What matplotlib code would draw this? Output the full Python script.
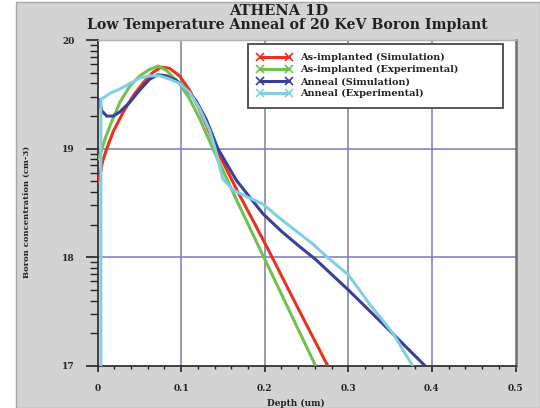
import numpy as np
import matplotlib
matplotlib.use("Agg")
import matplotlib.pyplot as plt
from matplotlib.lines import Line2D
from matplotlib.patches import Rectangle
from matplotlib.ticker import FixedLocator, MultipleLocator

# Boron profiles: depth (um) and log10 concentration (cm-3)
asimp_sim_depth = [0.000, 0.003, 0.006, 0.011, 0.019, 0.031, 0.043, 0.055, 0.066, 0.076,
                   0.086, 0.098, 0.110, 0.122, 0.134, 0.142, 0.166, 0.188, 0.209, 0.230,
                   0.252, 0.2755]
asimp_sim_conc = [18.68, 18.76, 18.88, 19.00, 19.16, 19.34, 19.49, 19.61, 19.70, 19.75,
                  19.74, 19.67, 19.54, 19.36, 19.15, 19.00, 18.63, 18.31, 18.00, 17.68,
                  17.35, 17.00]

asimp_exp_depth = [0.000, 0.003, 0.009, 0.017, 0.027, 0.039, 0.0506, 0.0625, 0.0725, 0.0825,
                   0.098, 0.110, 0.122, 0.134, 0.138, 0.168, 0.199, 0.230, 0.261]
asimp_exp_conc = [18.90, 18.94, 19.09, 19.25, 19.43, 19.58, 19.67, 19.73, 19.76, 19.72,
                  19.60, 19.46, 19.28, 19.07, 19.00, 18.50, 18.00, 17.50, 17.00]

anneal_sim_depth = [0.000, 0.002, 0.005, 0.011, 0.019, 0.027, 0.039, 0.0506, 0.0625, 0.0725,
                    0.0825, 0.094, 0.106, 0.118, 0.130, 0.144, 0.166, 0.198, 0.220, 0.240,
                    0.261, 0.300, 0.345, 0.392]
anneal_sim_conc = [19.46, 19.45, 19.35, 19.30, 19.30, 19.34, 19.43, 19.54, 19.64, 19.68,
                   19.67, 19.63, 19.55, 19.44, 19.27, 19.00, 18.71, 18.40, 18.24, 18.11,
                   17.98, 17.70, 17.36, 17.00]

anneal_exp_depth = [0.004, 0.004, 0.015, 0.027, 0.039, 0.0506, 0.0625, 0.0745, 0.0864, 0.098,
                    0.110, 0.122, 0.134, 0.140, 0.150, 0.162, 0.178, 0.198, 0.218, 0.238,
                    0.258, 0.275, 0.300, 0.3255, 0.3535, 0.377]
anneal_exp_conc = [17.00, 19.45, 19.51, 19.55, 19.60, 19.65, 19.67, 19.67, 19.64, 19.60,
                   19.52, 19.37, 19.17, 19.02, 18.72, 18.62, 18.56, 18.49, 18.36, 18.24,
                   18.12, 18.00, 17.84, 17.57, 17.30, 17.00]

series_labels = ["As-implanted (Simulation)", "As-implanted (Experimental)",
                 "Anneal (Simulation)", "Anneal (Experimental)"]
series_colors = ["#e8321e", "#72c04e", "#3b3f9c", "#80d0e2"]

x_ticks = [0, 0.1, 0.2, 0.3, 0.4, 0.5]
x_tick_labels = ["0", "0.1", "0.2", "0.3", "0.4", "0.5"]
y_ticks = [17, 18, 19, 20]
y_tick_labels = ["17", "18", "19", "20"]

font = "DejaVu Serif"
ink = "#222222"
grid_color = "#7a7ab8"

fig = plt.figure(figsize=(5.4, 4.08), dpi=100, facecolor="white")
# grey panel behind the plot
fig.patches.append(Rectangle((16 / 540, 0), 1 - 16 / 540, 1 - 2 / 408,
                             transform=fig.transFigure, facecolor="#d3d3d3",
                             edgecolor="#a8a8a8", linewidth=1.0, zorder=-10))

ax = fig.add_axes([97.5 / 540, (408 - 366) / 408, 418 / 540, (366 - 40) / 408])
ax.set_zorder(1)
ax.set_facecolor("white")
ax.set_xlim(0, 0.5)
ax.set_ylim(17, 20)

for xv in x_ticks[1:-1]:
    ax.axvline(xv, color=grid_color, lw=1.1, zorder=1)
for yv in y_ticks[1:-1]:
    ax.axhline(yv, color=grid_color, lw=1.1, zorder=1)

data = [(asimp_sim_depth, asimp_sim_conc), (asimp_exp_depth, asimp_exp_conc),
        (anneal_sim_depth, anneal_sim_conc), (anneal_exp_depth, anneal_exp_conc)]
for (xs, ys), c in zip(data, series_colors):
    ax.plot(xs, ys, color=c, lw=2.2, solid_joinstyle="round", solid_capstyle="butt",
            zorder=3, clip_on=True)

ax.set_xticks(x_ticks)
ax.set_xticklabels(x_tick_labels)
ax.xaxis.set_minor_locator(MultipleLocator(0.02))
ax.set_yticks(y_ticks)
ax.set_yticklabels(y_tick_labels)
minor_y = [d + np.log10(k) for d in y_ticks[:-1] for k in range(2, 10)]
ax.yaxis.set_minor_locator(FixedLocator(minor_y))

ax.tick_params(axis="x", which="major", direction="out", length=4.5, width=1.2,
               color=ink, pad=8.5, labelsize=6.5, labelcolor=ink)
ax.tick_params(axis="x", which="minor", direction="out", length=2.3, width=1.0, color=ink)
ax.tick_params(axis="y", which="major", direction="out", length=9, width=1.2,
               color=ink, pad=7.5, labelsize=6.5, labelcolor=ink)
ax.tick_params(axis="y", which="minor", direction="out", length=6, width=1.0, color=ink)
for lab in ax.get_xticklabels() + ax.get_yticklabels():
    lab.set_fontfamily(font)
    lab.set_fontweight("bold")

ax.spines["left"].set_color("#333333")
ax.spines["bottom"].set_color("#333333")
ax.spines["left"].set_linewidth(1.3)
ax.spines["bottom"].set_linewidth(1.3)
ax.spines["right"].set_color("#707070")
ax.spines["right"].set_linewidth(1.8)
ax.spines["top"].set_color("#b0b0b0")
ax.spines["top"].set_linewidth(1.0)

handles = [Line2D([0], [0], color=c, lw=2.2, marker="x", markersize=6,
                  markeredgewidth=1.2) for c in series_colors]
leg = ax.legend(handles, series_labels, loc="upper left",
                bbox_to_anchor=(0.36, 0.988, 0.61, 0.0), mode="expand",
                borderaxespad=0.0,
                numpoints=2, handlelength=3.6, handletextpad=0.8, borderpad=0.95,
                labelspacing=0.3, fancybox=False, framealpha=1.0,
                prop={"family": font, "weight": "bold", "size": 7.0})
leg.get_frame().set_edgecolor("#555555")
leg.get_frame().set_linewidth(1.4)
for t in leg.get_texts():
    t.set_color(ink)

fig.text(279 / 540, 1 - 11 / 408, "ATHENA 1D", ha="center", va="center",
         family=font, weight="bold", size=10.5, color=ink)
fig.text(287 / 540, 1 - 25.5 / 408, "Low Temperature Anneal of 20 KeV Boron Implant",
         ha="center", va="center", family=font, weight="bold", size=10.2, color=ink)
fig.text(27 / 540, 1 - 212 / 408, "Boron concentration (cm-3)", rotation=90,
         ha="center", va="center", family=font, weight="bold", size=6.0, color=ink)
fig.text(296 / 540, 1 - 403 / 408, "Depth (um)", ha="center", va="center",
         family=font, weight="bold", size=6.4, color=ink)

fig.savefig("out.png", dpi=100, facecolor=fig.get_facecolor())
